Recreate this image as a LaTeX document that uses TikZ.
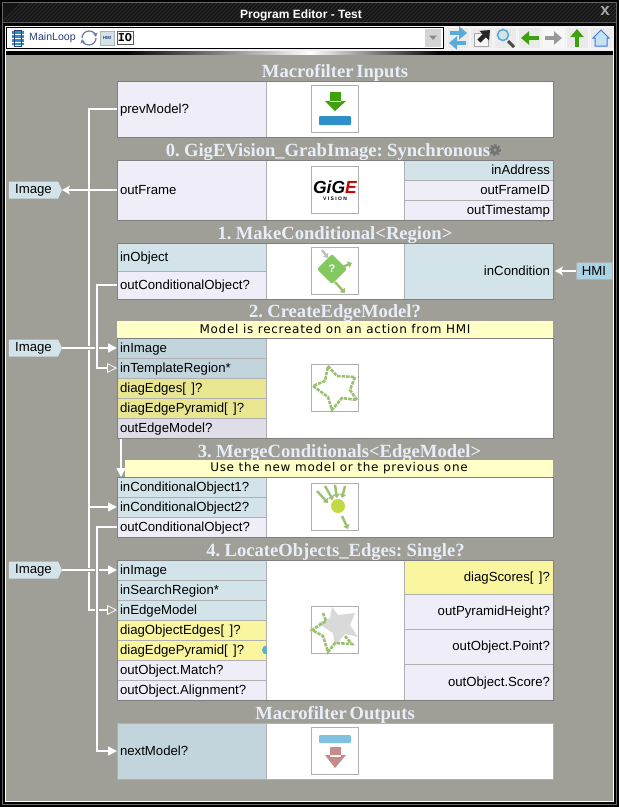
\documentclass[tikz,border=0pt]{standalone}
\usepackage{fontspec}
\setmainfont{Liberation Sans}
\newfontfamily\titlefont[WordSpace=0.6]{Liberation Serif}
\newfontfamily\notefont[LetterSpace=6]{DejaVu Sans}
\newfontfamily\monofont{Liberation Mono}
\usetikzlibrary{arrows.meta,shapes.symbols}

\definecolor{panelgray}{HTML}{9F9F98}
\definecolor{barhatch}{HTML}{2B2B2B}
\definecolor{barbase}{HTML}{151515}
\definecolor{edgegray}{HTML}{808080}
\definecolor{cellgray}{HTML}{B0B0B0}
\definecolor{cellout}{HTML}{EFEEF8}
\definecolor{cellin}{HTML}{D2E4EA}
\definecolor{cellindark}{HTML}{C3D5DC}
\definecolor{celldiag}{HTML}{FAF6A0}
\definecolor{celldiagdark}{HTML}{E8E690}
\definecolor{celloutdark}{HTML}{DFDEE8}
\definecolor{notefill}{HTML}{FFFFC8}
\definecolor{titletext}{HTML}{E8EEF8}
\definecolor{hmiblue}{HTML}{A8D4E6}
\definecolor{toolblue}{HTML}{5AACD8}
\definecolor{toolgreen}{HTML}{3FA010}
\definecolor{iconblue}{HTML}{2F8FC8}
\definecolor{icongreen}{HTML}{9AC070}
\definecolor{linkblue}{HTML}{2A4080}

\tikzset{
  blocktitle/.style={text=titletext, font=\titlefont\bfseries\fontsize{18.6}{20}\selectfont, inner sep=0pt, yshift=-2pt},
  notebar/.style={anchor=north west, fill=notefill, minimum width=436pt, minimum height=17pt, inner sep=0pt, outer sep=0pt, font=\notefont\fontsize{12}{13}\selectfont},
  blockbody/.style={anchor=north west, fill=white, minimum width=436pt, inner sep=0pt, outer sep=0pt},
  port/.style={anchor=north west, draw=cellgray, line width=1pt, minimum height=20pt, text width=143pt, inner xsep=3pt, inner ysep=0pt, outer sep=0pt, align=left, text height=11pt, text depth=2.5pt, font=\fontsize{13.2}{15}\selectfont},
  portright/.style={port, align=right},
  iconbox/.style={draw=cellgray, line width=1pt, fill=white, minimum width=47pt, minimum height=47pt, inner sep=0pt, outer sep=0pt},
  imagetag/.style={signal, signal to=east, signal pointer angle=130, fill=cellin, minimum width=53pt, minimum height=17pt, inner sep=0pt, outer sep=0pt, font=\fontsize{13.2}{15}\selectfont},
  hmitag/.style={draw=cellgray, line width=1pt, fill=hmiblue, minimum width=36pt, minimum height=17pt, inner sep=0pt, outer sep=0pt, font=\fontsize{13.2}{15}\selectfont},
  toolbutton/.style={fill=black!8, draw=black!4, line width=1pt, minimum width=22pt, minimum height=21pt, inner sep=0pt},
  toolarrow/.style={line width=4.5pt, -{Triangle[length=8pt,width=13pt]}},
  wire/.style={draw=white, line width=1.4pt},
  wirecross/.style={wire, preaction={draw=panelgray, line width=4.5pt}},
  fulltip/.style={-{Triangle[length=9pt,width=9pt,fill=white]}},
  opentip/.style={-{Triangle[open,length=10pt,width=10pt,fill=panelgray,line width=0.8pt]}},
  bartip/.style={{Stealth[length=8pt,width=9pt,inset=2pt]}-},
  blockedge/.style={draw=edgegray, line width=1pt},
  iconarrow/.style={icongreen, line width=2.4pt, -{Triangle[length=4pt,width=6.5pt]}},
  iconstar/.style={draw=icongreen, line width=2.6pt, dash pattern=on 3.5pt off 1pt}
}

\begin{document}
\begin{tikzpicture}[x=1pt,y=-1pt]
  \useasboundingbox (0,0) rectangle (619,807);
  % window and title bar
  \fill[black] (0,0) rectangle (619,807);
  \draw[black!60, line width=1pt] (2.5,2.5) rectangle (616.5,804.5);
  \fill[barbase] (3,3) rectangle (616,22);
  \begin{scope}
    \clip (3,3) rectangle (616,22);
    \foreach \hx in {0,4,...,640} {
      \draw[barhatch, line width=1pt] (\hx,24) -- (\hx+22,2);
    }
  \end{scope}
  \draw[black!65, line width=1pt] (3,22.5) -- (616,22.5);
  \node[text=white, font=\bfseries\fontsize{12}{14}\selectfont, inner sep=0pt] (windowTitle) at (301,15) {Program Editor - Test};
  \node[text=black!35, font=\bfseries\fontsize{17}{17}\selectfont, inner sep=0pt] (closeMark) at (605,11) {x};

  % toolbar
  \fill[black!6] (5,26) rectangle (614,51);
  \draw[black, fill=white, line width=1pt] (6.5,27.5) rectangle (443,48);
  \fill[black] (6,51) rectangle (125,55);
  \shade[left color=black, right color=white] (125,51) rectangle (310,55);
  \shade[left color=white, right color=black] (310,51) rectangle (440,55);
  \fill[black] (440,51) rectangle (613,55);
  \fill[black!17] (425,29) rectangle (441,47);
  \fill[black!45] (429,35.5) -- (437,35.5) -- (433,40) -- cycle;
  \fill[iconblue] (12,31) rectangle (24,45);
  \foreach \ly in {34,38,42} {
    \draw[white, line width=0.8pt] (12,\ly) -- (24,\ly);
  }
  \draw[linkblue, line width=1pt] (14.5,30) rectangle (21.5,46);
  \node[anchor=west, text=linkblue, font=\fontsize{10.6}{13}\selectfont, inner sep=0pt] (loopName) at (29,38) {MainLoop};
  \draw[linkblue!70, line width=1.2pt, -{Stealth[length=4pt,width=5pt]}] (82,38) arc[start angle=180,end angle=350,radius=7];
  \draw[linkblue!70, line width=1.2pt, -{Stealth[length=4pt,width=5pt]}] (96,38) arc[start angle=0,end angle=170,radius=7];
  \node[draw=black!30, fill=cellin, minimum width=14pt, minimum height=14pt, inner sep=0pt, text=linkblue, font=\bfseries\fontsize{4.5}{5}\selectfont] (hmiIcon) at (107,38) {HMI};
  \node[draw=black!65, line width=1pt, fill=white, minimum width=16pt, minimum height=13pt, inner sep=0pt, font=\monofont\bfseries\fontsize{12}{12}\selectfont] (ioIcon) at (125,38) {IO};
  \node[toolbutton] (swapButton) at (458,38) {};
  \node[toolbutton] (openButton) at (481.5,38) {};
  \node[toolbutton] (findButton) at (505,38) {};
  \node[toolbutton] (backButton) at (529.5,38) {};
  \node[toolbutton, fill=black!3] (nextButton) at (553.5,38) {};
  \node[toolbutton] (upButton) at (577,38) {};
  \node[toolbutton] (homeButton) at (601,38) {};
  \draw[toolarrow, toolblue] (450,33) -- (467,33);
  \draw[toolarrow, toolblue] (466,43) -- (449,43);
  \draw[black!35, fill=black!4, line width=1pt] (474,33) rectangle (488,46);
  \draw[toolarrow, black!85] (479,41) -- (490,30);
  \draw[black!70, line width=3pt] (508,41) -- (514,47);
  \draw[toolblue, fill=cellin, line width=1.6pt] (503,35) circle[radius=5.5];
  \draw[toolarrow, toolgreen] (539,38) -- (521,38);
  \draw[toolarrow, black!40] (545,38) -- (562,38);
  \draw[toolarrow, toolgreen] (577,47) -- (577,29);
  \fill[toolblue!35, draw=toolblue!70!blue, line width=1pt] (593,38) -- (601,30) -- (609,38) -- (607,38) -- (607,46) -- (595,46) -- (595,38) -- cycle;

  % panel
  \fill[panelgray] (6,55) rectangle (613,801);
  \draw[white, line width=1pt] (5.5,51) -- (5.5,801.5) -- (613.5,801.5) -- (613.5,51);

  % Macrofilter Inputs
  \node[blocktitle] (inputsTitle) at (335,71) {Macrofilter Inputs};
  \node[blockbody, minimum height=56pt] (inputsBody) at (117,81) {};
  \node[port, fill=cellout, minimum height=56pt] (prevModel) at (117,81) {prevModel?};
  \draw[blockedge] (inputsBody.north west) rectangle (inputsBody.south east);
  \node[iconbox] (inputsIcon) at (335,109) {};
  \fill[toolgreen] (330,92) rectangle (341,102) (325,101) -- (346,101) -- (335,111) -- cycle;
  \fill[iconblue, rounded corners=1pt] (319,116) rectangle (351,125);

  % 0. GigEVision_GrabImage
  \node[blocktitle] (grabTitle) at (328,150) {0. GigEVision\_GrabImage: Synchronous};
  \fill[black!55] (495,150) circle[radius=4.5];
  \draw[black!55, line width=1.8pt, dash pattern=on 2pt off 1.9pt] (495,150) circle[radius=5.2];
  \fill[panelgray] (495,150) circle[radius=1.6];
  \node[blockbody, minimum height=60pt] (grabBody) at (117,160) {};
  \node[port, fill=cellout, minimum height=60pt] (outFrame) at (117,160) {outFrame};
  \node[portright, fill=cellin] (inAddress) at (404,160) {inAddress};
  \node[portright, fill=cellout] (outFrameID) at (404,180) {outFrameID};
  \node[portright, fill=cellout] (outTimestamp) at (404,200) {outTimestamp};
  \draw[blockedge] (grabBody.north west) rectangle (grabBody.south east);
  \node[iconbox] (grabIcon) at (335,190) {};
  \node[anchor=base, font=\bfseries\itshape\fontsize{17.5}{18}\selectfont, inner sep=0pt] (gigeLogo) at (335,193.5) {GiG\textcolor{red!80!black}{E}};
  \node[font=\bfseries\fontsize{5}{5}\selectfont, inner sep=0pt] (gigeText) at (335,198.5) {V I S I O N};

  % 1. MakeConditional
  \node[blocktitle] (condTitle) at (335,233) {1. MakeConditional<Region>};
  \node[blockbody, minimum height=56pt] (condBody) at (117,243) {};
  \node[port, fill=cellin, minimum height=28pt] (inObject) at (117,243) {inObject};
  \node[port, fill=cellout, minimum height=28pt] (condOut) at (117,271) {outConditionalObject?};
  \node[portright, fill=cellin, minimum height=56pt] (inCondition) at (404,243) {inCondition};
  \draw[blockedge] (condBody.north west) rectangle (condBody.south east);
  \node[iconbox] (condIcon) at (335,271) {};
  \draw[iconarrow, black!25] (322,250) -- (328,258);
  \draw[iconarrow] (340,268) -- (352,263);
  \draw[iconarrow] (335,282) -- (345,293);
  \fill[icongreen!85!green, rounded corners=2pt] (332,254) -- (347,269) -- (332,284) -- (317,269) -- cycle;
  \node[text=white, font=\bfseries\fontsize{11}{11}\selectfont, inner sep=0pt] (condMark) at (332,269) {?};
  \node[hmitag] (hmiTag) at (594,271) {HMI};

  % 2. CreateEdgeModel
  \node[blocktitle] (edgeTitle) at (335,311) {2. CreateEdgeModel?};
  \node[notebar] (edgeNote) at (117,321) {Model is recreated on an action from HMI};
  \node[blockbody, minimum height=100pt] (edgeBody) at (117,338) {};
  \node[port, fill=cellindark] (edgeImage) at (117,338) {inImage};
  \node[port, fill=cellindark] (templateRegion) at (117,358) {inTemplateRegion*};
  \node[port, fill=celldiagdark] (diagEdges) at (117,378) {diagEdges[ \kern1pt]?};
  \node[port, fill=celldiagdark] (edgePyramid) at (117,398) {diagEdgePyramid[ \kern1pt]?};
  \node[port, fill=celloutdark] (outEdgeModel) at (117,418) {outEdgeModel?};
  \draw[blockedge] (edgeBody.north west) rectangle (edgeBody.south east);
  \node[iconbox] (edgeIcon) at (335,388) {};
  \draw[iconstar] (328,366) -- (337,376) -- (355,377) -- (350,390) -- (357,400) -- (342,398) -- (332,410) -- (328,397) -- (313,386) -- (325,381) -- cycle;

  % 3. MergeConditionals
  \node[blocktitle] (mergeTitle) at (339.5,451) {3. MergeConditionals<EdgeModel>};
  \node[notebar, minimum width=428pt] (mergeNote) at (125,460) {Use the new model or the previous one};
  \node[blockbody, minimum height=60pt] (mergeBody) at (117,477) {};
  \node[port, fill=cellin] (condObjA) at (117,477) {inConditionalObject1?};
  \node[port, fill=cellin] (condObjB) at (117,497) {inConditionalObject2?};
  \node[port, fill=cellout] (mergeOut) at (117,517) {outConditionalObject?};
  \draw[blockedge] (mergeBody.north west) rectangle (mergeBody.south east);
  \node[iconbox] (mergeIcon) at (335,507) {};
  \draw[iconarrow] (317,491) -- (328,503);
  \draw[iconarrow] (325,486) -- (333,500);
  \draw[iconarrow] (335,485) -- (337,498);
  \draw[iconarrow] (345,486) -- (342,498);
  \draw[iconarrow] (342,516) -- (348,529);
  \fill[icongreen!60!yellow] (338,506) circle[radius=7];

  % 4. LocateObjects_Edges
  \node[blocktitle] (locateTitle) at (335.5,550) {4. LocateObjects\_Edges: Single?};
  \node[blockbody, minimum height=140pt] (locateBody) at (117,560) {};
  \node[port, fill=cellin] (locateImage) at (117,560) {inImage};
  \node[port, fill=cellin] (searchRegion) at (117,580) {inSearchRegion*};
  \node[port, fill=cellin] (inEdgeModel) at (117,600) {inEdgeModel};
  \node[port, fill=celldiag] (objectEdges) at (117,620) {diagObjectEdges[ \kern1pt]?};
  \node[port, fill=celldiag] (locatePyramid) at (117,640) {diagEdgePyramid[ \kern1pt]?};
  \node[port, fill=cellout] (outMatch) at (117,660) {outObject.Match?};
  \node[port, fill=cellout] (outAlignment) at (117,680) {outObject.Alignment?};
  \node[portright, fill=celldiag, minimum height=34pt] (diagScores) at (404,560) {diagScores[ \kern1pt]?};
  \node[portright, fill=cellout, minimum height=35pt] (pyramidHeight) at (404,594) {outPyramidHeight?};
  \node[portright, fill=cellout, minimum height=35pt] (outPoint) at (404,629) {outObject.Point?};
  \node[portright, fill=cellout, minimum height=36pt] (outScore) at (404,664) {outObject.Score?};
  \draw[blockedge] (locateBody.north west) rectangle (locateBody.south east);
  \fill[toolblue] (266.5,654.5) arc[start angle=90,end angle=270,radius=4.5] -- cycle;
  \node[iconbox] (locateIcon) at (334.5,630) {};
  \fill[black!15] (332,607) -- (338,615) -- (355,613) -- (350,625) -- (358,637) -- (345,634) -- (335,646) -- (333,633) -- (318,623) -- (330,618) -- cycle;
  \draw[iconstar] (323,613) -- (326,621) -- (312,630) -- (323,636) -- (328,652) -- (335,643) -- (352,644) -- (345,636);

  % Macrofilter Outputs
  \node[blocktitle] (outputsTitle) at (335,713) {Macrofilter Outputs};
  \node[blockbody, minimum height=56pt] (outputsBody) at (117,723) {};
  \node[port, fill=cellindark, minimum height=56pt] (nextModel) at (117,723) {nextModel?};
  \draw[draw=cellgray, line width=1pt] (outputsBody.north west) rectangle (outputsBody.south east);
  \node[iconbox] (outputsIcon) at (335,751) {};
  \fill[toolblue!75, rounded corners=1pt] (319,735) rectangle (351,743);
  \fill[red!50!black!45] (330,747) rectangle (341,757) (325,755) -- (346,755) -- (335,768) -- cycle;

  % tags on the left
  \node[imagetag] (imageOut) at (33.5,190) {Image};
  \node[imagetag] (imageEdge) at (33.5,348) {Image};
  \node[imagetag] (imageLocate) at (33.5,570) {Image};

  % connectors
  \coordinate (trunkA) at (89,109);
  \coordinate (trunkB) at (97,285);
  \coordinate (trunkC) at (97,527);
  \coordinate (dropTop) at (121,439);
  \coordinate (dropEnd) at (121,477);
  \draw[wire, opentip] (prevModel.west) -- (trunkA) |- (inEdgeModel.west);
  \draw[wire, fulltip] (trunkA |- condObjB.west) -- (condObjB.west);
  \draw[wire, bartip] (imageOut.east) -- (outFrame.west);
  \draw[wirecross, fulltip] (imageEdge.east) -- (edgeImage.west);
  \draw[wirecross, fulltip] (imageLocate.east) -- (locateImage.west);
  \draw[wirecross, opentip] (condOut.west) -- (trunkB) |- (templateRegion.west);
  \draw[wirecross, fulltip] (mergeOut.west) -- (trunkC) |- (nextModel.west);
  \draw[wire, fulltip] (dropTop) -- (dropEnd);
  \draw[wire, bartip, shorten <=2pt] (inCondition.east) -- (hmiTag.west);
\end{tikzpicture}
\end{document}
